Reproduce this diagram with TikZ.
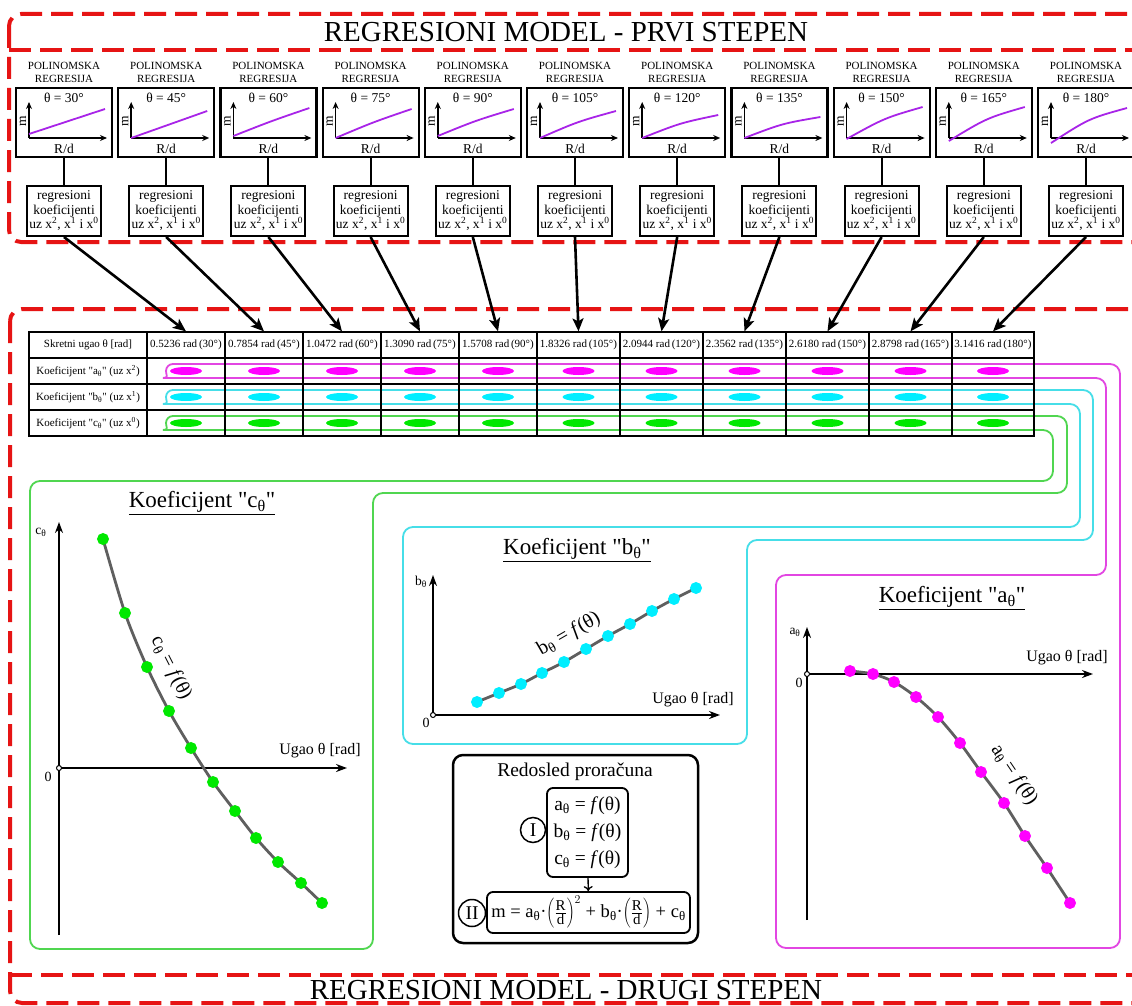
\documentclass[tikz,border=0pt]{standalone}
\usepackage{fontspec}
\setmainfont{Liberation Serif}
\newfontfamily\quotefont{Liberation Serif}
\newcommand{\dq}{{\quotefont"}}
\newcommand{\rdfrac}{\left(\rule[-12pt]{0pt}{30pt}\frac{\mbox{\fontsize{15pt}{16pt}\selectfont R}}{\mbox{\fontsize{15pt}{16pt}\selectfont d}}\right)}
\usetikzlibrary{arrows.meta}

\definecolor{framered}{RGB}{230,20,20}
\definecolor{curvepurple}{RGB}{168,36,232}
\definecolor{hosemag}{RGB}{226,70,226}
\definecolor{hosecyan}{RGB}{70,222,232}
\definecolor{hosegreen}{RGB}{80,214,80}
\definecolor{dotmag}{RGB}{255,0,255}
\definecolor{dotcyan}{RGB}{0,238,255}
\definecolor{dotgreen}{RGB}{0,232,0}
\definecolor{curvegray}{RGB}{95,95,95}

\begin{document}
\begin{tikzpicture}[x=1pt,y=-1pt]
		\tikzstyle{every node}=[font=\fontsize{13.5pt}{15pt}\selectfont, inner sep=0pt]
		\tikzstyle{redframe}=[draw=framered, line width=4pt, dash pattern=on 22pt off 9pt, rounded corners=12pt]
		\tikzstyle{bigtitle}=[font=\fontsize{29pt}{32pt}\selectfont]
		\tikzstyle{smallcap}=[font=\fontsize{11pt}{13pt}\selectfont, align=center]
		\tikzstyle{gbox}=[draw, line width=2.2pt, minimum width=96pt, minimum height=69pt]
		\tikzstyle{coefbox}=[draw, line width=2pt, minimum width=74pt, minimum height=50pt, align=center, font=\fontsize{13.5pt}{14.5pt}\selectfont]
		\tikzstyle{miniaxis}=[line width=1.6pt, -{Stealth[length=7pt, width=6pt]}]
		\tikzstyle{cell}=[draw, line width=1.3pt, minimum height=26pt, font=\fontsize{11pt}{13pt}\selectfont]
		\tikzstyle{feed}=[line width=2.6pt, -{Stealth[length=13pt, width=11pt, inset=3pt]}]
		\tikzstyle{hose}=[line width=1.8pt]
		\tikzstyle{bigaxis}=[line width=1.8pt, -{Stealth[length=11pt, width=8pt]}]
		\tikzstyle{ktitle}=[font=\fontsize{23pt}{27pt}\selectfont]
		\tikzstyle{axlabel}=[font=\fontsize{16pt}{18pt}\selectfont]
		\tikzstyle{zerolabel}=[font=\fontsize{14pt}{16pt}\selectfont]
		\tikzstyle{fcurve}=[curvegray, line width=2.8pt]
		\tikzstyle{funlabel}=[font=\fontsize{20pt}{24pt}\selectfont]
		\tikzstyle{calcstep}=[font=\fontsize{19.5pt}{27pt}\selectfont]
		
		\useasboundingbox (0,0) rectangle (1132,1006);
		\clip (0,0) rectangle (1132,1006);
		\fill[white] (0,0) rectangle (1132,1006);
		
		\draw[redframe] (9,14) rectangle (1160,242);
		\draw[redframe] (9,50) -- (1160,50);
		\node[bigtitle] (titleone) at (566,32) {REGRESIONI MODEL - PRVI STEPEN};
		
		\draw[redframe] (10,309) rectangle (1160,1003);
		\draw[redframe] (10,975) -- (1160,975);
		\node[bigtitle] (titletwo) at (566,990) {REGRESIONI MODEL - DRUGI STEPEN};
		
		\foreach \angl/\ys/\ye/\bend [count=\i from 0] in {30/134/109/0, 45/138/111/0, 60/136/108/1, 75/138/109/1.5, 90/136/109/2, 105/138/111/3, 120/138/115/3.5, 135/138/117/4, 150/139/107/5, 165/141/107/6, 180/143/108/7}{
			\pgfmathsetmacro{\cx}{64+102.2*\i}
			\node[smallcap] (head\i) at (\cx,72.5) {POLINOMSKA\\REGRESIJA};
			\node[gbox] (gbox\i) at (\cx,122.5) {};
			\node (theta\i) at (\cx,98) {θ = \angl°};
			\draw[miniaxis] (\cx-35,138) -- (\cx-35,102);
			\draw[miniaxis] (\cx-35,138) -- (\cx+43,138);
			\node[rotate=90] (m\i) at (\cx-41,121) {m};
			\node (rd\i) at (\cx,149) {R/d};
			\draw[curvepurple, line width=1.8pt] (\cx-35,\ys) .. controls (\cx+3,{(\ys+\ye)/2-\bend}) .. (\cx+41,\ye);
			\node[coefbox] (coef\i) at (\cx,211) {regresioni\\koeficijenti\\uz x\textsuperscript{2}, x\textsuperscript{1} i x\textsuperscript{0}};
			\draw[line width=2pt] (gbox\i) -- (coef\i);
		}
		
		\draw[hose, hosemag] (173,364) [rounded corners=10pt] -- (1120,364) -- (1120,948) -- (776,948) -- (776,575) -- (1106,575) -- (1106,378) -- (173,378) [sharp corners] arc[start angle=90, end angle=270, radius=7];
		\draw[hose, hosecyan] (173,390) [rounded corners=10pt] -- (1093,390) -- (1093,540) -- (747,540) -- (747,744) -- (403,744) -- (403,527) -- (1080,527) -- (1080,404) -- (173,404) [sharp corners] arc[start angle=90, end angle=270, radius=7];
		\draw[hose, hosegreen] (173,416) [rounded corners=10pt] -- (1067,416) -- (1067,493) -- (373,493) -- (373,949) -- (30,949) -- (30,481) -- (1053,481) -- (1053,430) -- (173,430) [sharp corners] arc[start angle=90, end angle=270, radius=7];
		
		\node[cell, minimum width=118pt] (lab0) at (88,345) {Skretni ugao θ [rad]};
		\node[cell, minimum width=118pt] (lab1) at (88,371) {Koeficijent \dq a\textsubscript{θ}\dq{} (uz x\textsuperscript{2})};
		\node[cell, minimum width=118pt] (lab2) at (88,397) {Koeficijent \dq b\textsubscript{θ}\dq{} (uz x\textsuperscript{1})};
		\node[cell, minimum width=118pt] (lab3) at (88,423) {Koeficijent \dq c\textsubscript{θ}\dq{} (uz x\textsuperscript{0})};
		
		\foreach \xl/\xr/\val/\angl [count=\i from 0] in {147/225/0.5236/30, 225/303/0.7854/45, 303/381/1.0472/60, 381/459/1.3090/75, 459/537/1.5708/90, 537/620/1.8326/105, 620/703/2.0944/120, 703/786/2.3562/135, 786/869/2.6180/150, 869/952/2.8798/165, 952/1034/3.1416/180}{
			\pgfmathsetmacro{\cw}{\xr-\xl}
			\pgfmathsetmacro{\cmid}{(\xl+\xr)/2}
			\node[cell, minimum width=\cw pt] (hcell\i) at (\cmid,345) {\val\ rad\,(\angl°)};
			\node[cell, minimum width=\cw pt] (acell\i) at (\cmid,371) {};
			\node[cell, minimum width=\cw pt] (bcell\i) at (\cmid,397) {};
			\node[cell, minimum width=\cw pt] (ccell\i) at (\cmid,423) {};
			\fill[dotmag] (acell\i) ellipse[x radius=16pt, y radius=4pt];
			\fill[dotcyan] (bcell\i) ellipse[x radius=16pt, y radius=4pt];
			\fill[dotgreen] (ccell\i) ellipse[x radius=16pt, y radius=4pt];
			\draw[feed] (coef\i.south) -- (hcell\i.north);
		}
		
		\node[ktitle] (ctitle) at (202,503) {\underline{Koeficijent \dq c\textsubscript{θ}\dq}};
		\draw[bigaxis] (59,935) -- (59,522);
		\draw[bigaxis] (59,768) -- (347,768);
		\draw[line width=1pt, fill=white] (59,768) circle[radius=2.5pt];
		\node[zerolabel] (czero) at (48,777) {0};
		\node (cname) at (41,532) {c\textsubscript{θ}};
		\node[axlabel] (cugao) at (320,751) {Ugao θ [rad]};
		\draw[fcurve] plot[smooth, mark=*, mark size=4.5pt, mark options={draw=dotgreen, fill=dotgreen}] coordinates {(103,539) (125,613) (147,667) (169,711) (191,748) (213,782) (235,811) (256,838) (278,862) (301,883) (322,903)};
		\node[funlabel, rotate=-63] (cfun) at (171,668) {c\textsubscript{θ} = \textit{f}(θ)};
		
		\node[ktitle] (btitle) at (577,550) {\underline{Koeficijent \dq b\textsubscript{θ}\dq}};
		\draw[bigaxis] (433,715) -- (433,575);
		\draw[bigaxis] (433,715) -- (720,715);
		\draw[line width=1pt, fill=white] (433,715) circle[radius=2.5pt];
		\node[zerolabel] (bzero) at (426,723) {0};
		\node (bname) at (421,582) {b\textsubscript{θ}};
		\node[axlabel] (bugao) at (693,700) {Ugao θ [rad]};
		\draw[fcurve] plot[smooth, mark=*, mark size=4.5pt, mark options={draw=dotcyan, fill=dotcyan}] coordinates {(477,702) (499,693) (521,684) (542,673) (564,662) (586,649) (608,636) (630,624) (652,611) (674,599) (696,588)};
		\node[funlabel, rotate=30] (bfun) at (569,634) {b\textsubscript{θ} = \textit{f}(θ)};
		
		\node[ktitle] (atitle) at (952,598) {\underline{Koeficijent \dq a\textsubscript{θ}\dq}};
		\draw[bigaxis] (807,920) -- (807,627);
		\draw[bigaxis] (807,674) -- (1093,674);
		\draw[line width=1pt, fill=white] (807,674) circle[radius=2.5pt];
		\node[zerolabel] (azero) at (799,683) {0};
		\node (aname) at (795,632) {a\textsubscript{θ}};
		\node[axlabel] (augao) at (1067,658) {Ugao θ [rad]};
		\draw[fcurve] plot[smooth, mark=*, mark size=4.5pt, mark options={draw=dotmag, fill=dotmag}] coordinates {(850,671) (873,674) (894,682) (916,697) (938,717) (960,743) (981,772) (1004,803) (1025,836) (1047,868) (1070,903)};
		\node[funlabel, rotate=-56] (afun) at (1014,775) {a\textsubscript{θ} = \textit{f}(θ)};
		
		\draw[line width=2.5pt, rounded corners=10pt] (453,755) rectangle (698,943);
		\node[calcstep] (redosled) at (575,772) {Redosled proračuna};
		\node[calcstep, draw, line width=1.8pt, rounded corners=6pt, minimum width=81pt, minimum height=89pt, align=center] (stepone) at (587.5,832.5) {a\textsubscript{θ} = \textit{f}(θ)\\b\textsubscript{θ} = \textit{f}(θ)\\c\textsubscript{θ} = \textit{f}(θ)};
		\node[calcstep, draw, circle, line width=1.5pt, minimum size=25pt] (romone) at (533,830) {I};
		\node[calcstep, font=\fontsize{18.5pt}{22pt}\selectfont, draw, line width=1.8pt, rounded corners=6pt, minimum width=203pt, minimum height=41pt] (steptwo) at (588.5,912.5) {m = a\textsubscript{θ}·$\rdfrac^{2}$ + b\textsubscript{θ}·$\rdfrac$ + c\textsubscript{θ}};
		\node[calcstep, draw, circle, line width=1.5pt, minimum size=27pt] (romtwo) at (472,913) {II};
		\draw[line width=1.3pt, -{To[length=5pt, width=9pt]}] (stepone) -- (steptwo);
		
	\end{tikzpicture}
\end{document}
